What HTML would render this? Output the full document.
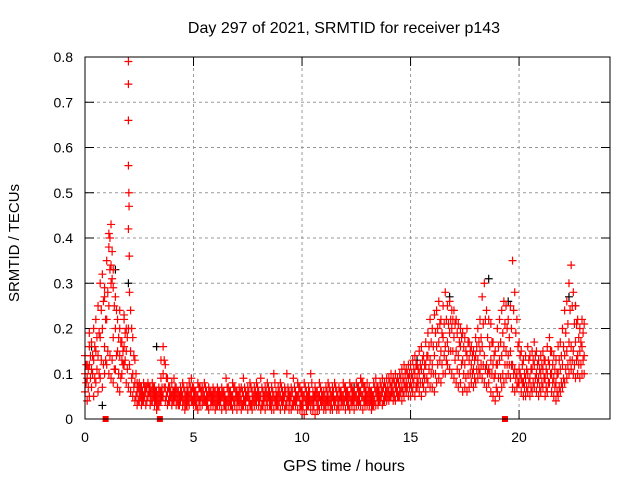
<!DOCTYPE html>
<html><head><meta charset="utf-8"><style>
body{margin:0;background:#fff}
svg{display:block;font-family:"Liberation Sans",sans-serif}
</style></head><body>
<svg id="chart" width="640" height="480" viewBox="0 0 640 480" xmlns="http://www.w3.org/2000/svg">
<rect width="640" height="480" fill="#fff"/>
<text x="344" y="33" font-size="16" text-anchor="middle">Day 297 of 2021, SRMTID for receiver p143</text>
<text x="0" y="0" font-size="15" text-anchor="middle" transform="translate(19,243) rotate(-90)">SRMTID / TECUs</text>
<text x="344" y="471" font-size="16" text-anchor="middle">GPS time / hours</text>
<g id="grid"></g><g id="ticks"></g><g id="black"></g><g id="red"></g><g id="gaps"></g>
<rect x="85" y="57" width="525" height="362" fill="none" stroke="#000" stroke-width="1"/>
</svg>
<script>
const xTicks=[0,5,10,15,20];
const yTicks=[0,0.1,0.2,0.3,0.4,0.5,0.6,0.7,0.8];
const yTickLabels=["0","0.1","0.2","0.3","0.4","0.5","0.6","0.7","0.8"];
const step=0.1;
const lo=[.06,.04,.05,.07,.05,.08,.06,.09,.07,.10,.12,.10,.09,.08,.11,.07,.06,.10,.12,.08,.07,.06,.05,.04,.03,.04,.03,.04,.03,.05,.03,.04,.03,.02,.03,.04,.05,.04,.03,.04,.03,.04,.03,.03,.04,.03,.02,.03,.03,.04,.03,.03,.02,.03,.03,.04,.03,.02,.03,.03,.02,.03,.03,.02,.03,.02,.03,.03,.02,.03,.02,.03,.02,.03,.03,.02,.03,.02,.03,.03,.03,.02,.03,.02,.03,.03,.02,.02,.03,.03,.02,.03,.02,.03,.02,.02,.03,.03,.02,.02,.02,.01,.02,.03,.02,.02,.01,.02,.02,.03,.02,.02,.03,.02,.02,.03,.02,.02,.03,.03,.02,.03,.02,.03,.02,.03,.03,.03,.02,.03,.03,.03,.02,.03,.03,.03,.04,.03,.04,.04,.04,.05,.04,.04,.05,.05,.04,.05,.06,.05,.05,.06,.05,.07,.06,.05,.07,.06,.08,.07,.07,.06,.08,.09,.08,.10,.10,.12,.11,.10,.09,.08,.07,.08,.06,.07,.06,.07,.08,.07,.08,.09,.10,.09,.08,.07,.08,.06,.05,.04,.06,.05,.07,.08,.09,.10,.09,.07,.06,.07,.08,.06,.05,.05,.06,.05,.06,.07,.06,.05,.06,.07,.05,.06,.08,.06,.05,.04,.05,.06,.07,.08,.09,.10,.11,.10,.09,.10,.09,.10,.10];
const q1=[.08,.07,.09,.10,.09,.11,.10,.13,.12,.13,.15,.14,.13,.11,.14,.10,.09,.12,.13,.11,.12,.09,.07,.05,.04,.05,.04,.05,.04,.06,.04,.05,.04,.03,.04,.05,.07,.05,.04,.05,.04,.05,.04,.03,.05,.04,.03,.04,.05,.04,.04,.03,.04,.05,.04,.04,.03,.05,.04,.04,.03,.04,.04,.05,.03,.04,.04,.03,.04,.05,.04,.04,.03,.04,.05,.04,.03,.04,.04,.05,.04,.03,.04,.04,.05,.03,.04,.04,.03,.04,.04,.04,.03,.05,.04,.03,.04,.04,.05,.03,.03,.04,.03,.04,.04,.03,.04,.03,.04,.04,.03,.04,.04,.03,.04,.04,.03,.05,.04,.04,.04,.03,.04,.04,.05,.04,.04,.05,.04,.04,.04,.04,.03,.04,.05,.04,.05,.04,.05,.05,.05,.06,.05,.06,.05,.06,.06,.07,.07,.07,.07,.08,.07,.08,.08,.08,.09,.09,.11,.10,.10,.10,.12,.13,.12,.14,.13,.15,.15,.15,.13,.11,.10,.12,.10,.09,.10,.10,.10,.09,.11,.11,.12,.12,.11,.10,.10,.10,.09,.07,.09,.09,.10,.12,.12,.12,.12,.10,.09,.08,.10,.08,.07,.07,.08,.07,.08,.09,.08,.07,.08,.09,.07,.08,.10,.08,.07,.06,.07,.08,.09,.11,.12,.13,.13,.12,.13,.12,.12,.13];
const mid=[.10,.09,.12,.11,.13,.15,.14,.18,.20,.16,.22,.25,.30,.18,.20,.15,.14,.13,.16,.15,.20,.15,.10,.08,.06,.06,.05,.05,.06,.05,.05,.06,.05,.04,.05,.06,.10,.07,.06,.05,.05,.06,.05,.04,.05,.05,.04,.05,.05,.06,.05,.04,.05,.04,.05,.05,.04,.05,.04,.05,.04,.05,.04,.05,.04,.04,.05,.04,.05,.04,.04,.05,.04,.05,.04,.05,.04,.04,.05,.05,.04,.05,.04,.05,.05,.04,.04,.05,.04,.05,.05,.04,.05,.04,.04,.05,.04,.04,.05,.04,.04,.05,.04,.05,.04,.04,.05,.04,.05,.04,.04,.04,.05,.04,.05,.04,.05,.04,.04,.05,.05,.04,.05,.05,.04,.05,.05,.06,.05,.05,.05,.05,.04,.05,.06,.05,.05,.06,.05,.06,.06,.07,.06,.07,.06,.07,.07,.08,.08,.09,.08,.09,.10,.09,.10,.11,.10,.12,.14,.13,.12,.14,.16,.17,.15,.18,.16,.17,.19,.20,.18,.15,.14,.16,.13,.12,.14,.13,.12,.11,.14,.13,.15,.16,.14,.12,.11,.13,.12,.10,.12,.13,.14,.16,.15,.14,.15,.12,.11,.10,.11,.09,.08,.09,.10,.09,.11,.12,.10,.09,.10,.11,.09,.10,.12,.10,.09,.08,.10,.11,.12,.14,.15,.17,.16,.15,.17,.14,.15,.16,.14];
const q2=[.12,.11,.14,.14,.16,.18,.19,.24,.26,.22,.28,.33,.37,.25,.24,.18,.17,.15,.19,.18,.28,.20,.14,.10,.07,.07,.06,.07,.07,.07,.06,.07,.06,.05,.06,.07,.13,.09,.07,.06,.06,.07,.06,.05,.06,.07,.05,.06,.07,.07,.06,.05,.07,.06,.06,.07,.05,.06,.05,.06,.05,.06,.05,.06,.05,.07,.06,.05,.07,.06,.05,.06,.06,.07,.05,.06,.07,.05,.06,.07,.05,.07,.05,.06,.07,.05,.06,.08,.05,.06,.07,.05,.06,.07,.05,.06,.07,.05,.07,.06,.05,.07,.05,.06,.08,.05,.06,.05,.07,.05,.05,.06,.07,.05,.06,.07,.05,.06,.05,.07,.06,.05,.07,.06,.05,.07,.06,.08,.07,.06,.06,.06,.05,.07,.07,.06,.07,.07,.07,.07,.08,.08,.08,.08,.08,.09,.09,.10,.10,.10,.10,.11,.12,.11,.12,.13,.12,.14,.16,.17,.16,.19,.20,.21,.19,.21,.22,.21,.22,.22,.21,.19,.17,.18,.16,.15,.17,.15,.14,.13,.16,.17,.18,.21,.22,.18,.16,.17,.14,.12,.16,.17,.19,.21,.20,.18,.20,.24,.19,.16,.14,.12,.10,.11,.13,.11,.13,.14,.12,.11,.12,.13,.11,.13,.15,.12,.11,.10,.13,.14,.16,.19,.21,.24,.25,.21,.21,.18,.17,.19];
const hi=[.14,.12,.16,.17,.20,.22,.25,.30,.32,.29,.35,.41,.43,.33,.27,.22,.20,.17,.22,.20,.79,.24,.18,.13,.08,.08,.07,.08,.07,.08,.07,.08,.07,.06,.07,.09,.16,.12,.09,.07,.08,.09,.07,.06,.07,.08,.06,.07,.08,.09,.07,.06,.08,.07,.07,.08,.06,.07,.06,.07,.06,.07,.06,.07,.06,.09,.07,.06,.08,.07,.06,.07,.07,.09,.06,.07,.08,.06,.07,.08,.06,.09,.06,.07,.08,.06,.07,.10,.06,.07,.08,.06,.07,.10,.06,.07,.09,.06,.08,.07,.06,.08,.06,.07,.10,.06,.07,.06,.08,.06,.06,.07,.08,.06,.07,.08,.06,.07,.06,.08,.07,.06,.08,.07,.06,.08,.07,.09,.08,.07,.08,.07,.06,.08,.09,.07,.08,.09,.08,.09,.09,.10,.09,.10,.09,.10,.11,.12,.11,.12,.12,.13,.14,.12,.15,.16,.14,.17,.19,.22,.20,.23,.24,.26,.22,.25,.28,.25,.26,.24,.24,.22,.21,.20,.19,.18,.20,.17,.16,.15,.18,.20,.22,.27,.30,.24,.22,.21,.17,.15,.20,.22,.24,.26,.25,.22,.25,.35,.28,.22,.17,.15,.13,.14,.16,.14,.15,.17,.15,.13,.14,.15,.13,.16,.18,.15,.14,.13,.16,.17,.20,.24,.26,.30,.34,.28,.25,.22,.20,.22,.21];
const extraT=[2.0,2.0,2.0,2.02,2.03,2.0,2.04,1.1,1.2,1.25,1.3,1.15,0.9,1.6,1.8,0.2,3.5];
const extraV=[.74,.66,.56,.50,.47,.42,.36,.38,.34,.31,.29,.40,.27,.24,.23,.19,.13];
const blackT=[0.3,0.8,1.4,2.0,3.3,16.8,18.6,19.5,22.3,22.6,12.4,15.3];
const blackV=[.16,.03,.33,.30,.16,.27,.31,.26,.27,.25,.07,.13];
const gapT=[0.95,3.45,19.35];

const X0=85,X1=610,Y0=419,Y1=57,XMAX=24.19,YMAX=0.8;
const sx=t=>X0+(X1-X0)*t/XMAX;
const sy=v=>Y0-(Y0-Y1)*v/YMAX;
const NS="http://www.w3.org/2000/svg";
function mk(tag,parent,attrs){const e=document.createElementNS(NS,tag);for(const k in attrs)e.setAttribute(k,attrs[k]);parent.appendChild(e);return e;}
const grid=document.getElementById('grid'),ticks=document.getElementById('ticks');
yTicks.forEach((v,i)=>{
  const y=sy(v);
  if(i>0&&i<yTicks.length-1){const g=mk('line',grid,{x1:X0,x2:X1,y1:y,y2:y,stroke:'#999','stroke-dasharray':'3,3','stroke-width':1});
  
  }
  mk('line',ticks,{x1:X0,x2:X0+9,y1:y,y2:y,stroke:'#000'});
  mk('line',ticks,{x1:X1,x2:X1-9,y1:y,y2:y,stroke:'#000'});
  const t=mk('text',ticks,{x:X0-12,y:y+5,'font-size':14,'text-anchor':'end'});t.textContent=yTickLabels[i];
  
  
});
xTicks.forEach(v=>{
  const x=sx(v);
  if(v>0){const g=mk('line',grid,{x1:x,x2:x,y1:Y0,y2:Y1,stroke:'#999','stroke-dasharray':'3,3','stroke-width':1});
  
  }
  mk('line',ticks,{x1:x,x2:x,y1:Y0,y2:Y0-9,stroke:'#000'});
  mk('line',ticks,{x1:x,x2:x,y1:Y1,y2:Y1+9,stroke:'#000'});
  const t=mk('text',ticks,{x:x,y:Y0+23,'font-size':14,'text-anchor':'middle'});t.textContent=String(v);
  
  
});
function plus(g,t,v,c,name){
  const x=sx(t),y=sy(v);
  const p=mk('path',g,{d:`M${x-4} ${y}h8M${x} ${y-4}v8`,stroke:c,'stroke-width':1.2,fill:'none'});
  
  
}
const black=document.getElementById('black'),red=document.getElementById('red');
blackT.forEach((t,i)=>plus(black,t,blackV[i],'#000','black-point'));
[lo,mid,hi].forEach(arr=>arr.forEach((v,i)=>plus(red,i*step,v,'#f00','red-point')));
[q1,q2].forEach(arr=>arr.forEach((v,i)=>plus(red,i*step+step/2,v,'#f00','red-point')));
extraT.forEach((t,i)=>plus(red,t,extraV[i],'#f00','red-point'));
const gaps=document.getElementById('gaps');
gapT.forEach(t=>{const r=mk('rect',gaps,{x:sx(t)-3,y:Y0-3,width:6,height:6,fill:'#f00'});
  
  });
</script>
</body></html>
